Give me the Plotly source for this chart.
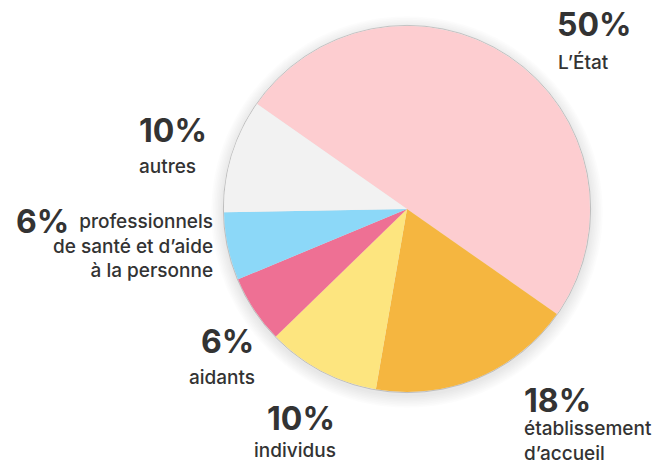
import plotly.graph_objects as go

categories = ["L’État", "établissement d’accueil", "individus", "aidants",
              "professionnels de santé et d’aide à la personne", "autres"]
values = [50, 18, 10, 6, 6, 10]
colors = ["#fdcdd0", "#f5b640", "#fde57f", "#ee7094", "#8cd8f8", "#f2f2f2"]

pct_labels = ["50%", "18%", "10%", "6%", "6%", "10%"]
name_labels = ["L’État", "établissement<br>d’accueil", "individus", "aidants",
               "professionnels<br>de santé et d’aide<br>à la personne", "autres"]

W, H = 658, 467
FONT = "Inter"
DARK = "#333333"

fig = go.Figure()
fig.add_trace(go.Pie(
    labels=categories, values=values, sort=False, direction="clockwise",
    rotation=-55, marker=dict(colors=colors, line=dict(width=0)),
    textinfo="none", hoverinfo="label+percent", showlegend=False,
    domain=dict(x=[224 / W, 590 / W], y=[1 - 392 / H, 1 - 26 / H]),
))

# soft shadow around the pie (decoration)
shapes = []
cx, cy, r = 407, 209, 183
for k in range(1, 9):
    rr = r + k * 1.6
    shapes.append(dict(type="circle", xref="paper", yref="paper", layer="below",
                       x0=(cx - rr) / W, x1=(cx + rr) / W,
                       y0=1 - (cy + 3 + rr) / H, y1=1 - (cy + 3 - rr) / H,
                       fillcolor="rgba(0,0,0,0.012)", line=dict(width=0)))
shapes.append(dict(type="circle", xref="paper", yref="paper", layer="below",
                   x0=(cx - r - 0.6) / W, x1=(cx + r + 0.6) / W,
                   y0=1 - (cy + r + 0.6) / H, y1=1 - (cy - r - 0.6) / H,
                   fillcolor="rgba(0,0,0,0)", line=dict(width=1, color="rgba(0,0,0,0.18)")))

# label placement: (pct x, pct y, pct anchor, name x, name y, name anchor)
placements = [
    (556, 25, "left", 557, 62, "left"),
    (523, 400, "left", 523, 441, "left"),
    (336, 418, "right", 337, 450, "right"),
    (255, 341, "right", 256, 377, "right"),
    (15, 221, "left", 214, 246, "right"),
    (138, 130, "left", 138, 166, "left"),
]

annotations = []
for pct, name, (px, py, pa, nx, ny, na) in zip(pct_labels, name_labels, placements):
    annotations.append(dict(text=pct, x=px / W, y=1 - py / H, xref="paper", yref="paper",
                            xanchor=pa, yanchor="middle", showarrow=False, borderpad=0,
                            font=dict(family=FONT, size=32, color=DARK, weight=700)))
    annotations.append(dict(text=name, x=nx / W, y=1 - ny / H, xref="paper", yref="paper",
                            xanchor=na, yanchor="middle", showarrow=False, align=na,
                            borderpad=0,
                            font=dict(family=FONT, size=19, color=DARK, weight=500)))

fig.update_layout(
    width=W, height=H, margin=dict(l=0, r=0, t=0, b=0),
    paper_bgcolor="white", plot_bgcolor="white",
    shapes=shapes, annotations=annotations,
)

fig.write_html("out.html", config={"displayModeBar": False},
               post_script="document.body.style.margin='0px';")
